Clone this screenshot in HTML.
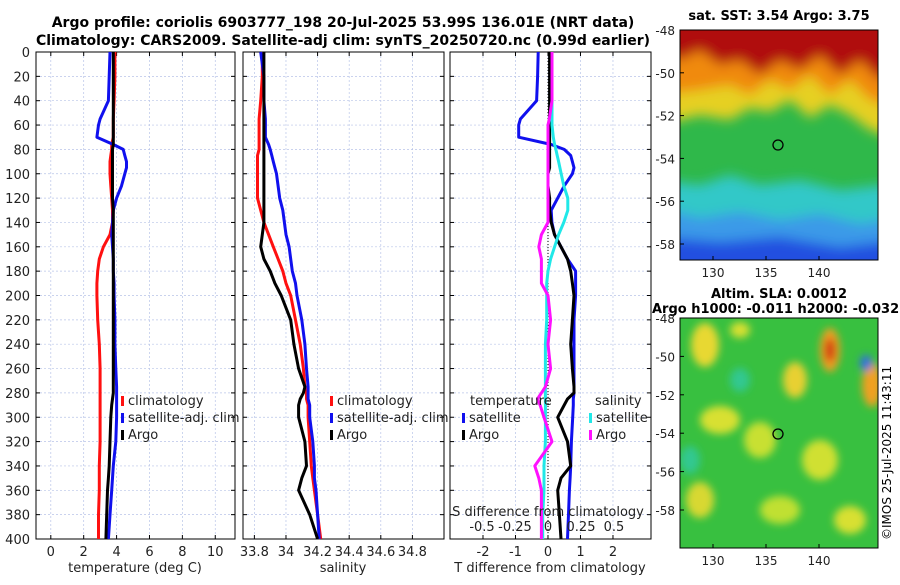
<!DOCTYPE html>
<html><head><meta charset="utf-8"><style>
body{margin:0;background:#fff;}
svg text{font-family:"DejaVu Sans","Liberation Sans",sans-serif;}
</style></head><body>
<svg id="c" width="900" height="580" xmlns="http://www.w3.org/2000/svg">
<defs>
<filter id="bl" x="-20%" y="-20%" width="140%" height="140%"><feGaussianBlur stdDeviation="6"/></filter>
<filter id="bl2" x="-20%" y="-20%" width="140%" height="140%"><feGaussianBlur stdDeviation="4"/></filter>
<clipPath id="m1"><rect x="680" y="30" width="198" height="230"/></clipPath>
<clipPath id="m2"><rect x="680" y="318" width="198" height="230"/></clipPath>
</defs>
<text x="343" y="27" text-anchor="middle" font-size="14" font-weight="bold">Argo profile: coriolis 6903777_198 20-Jul-2025 53.99S 136.01E (NRT data)</text>
<text x="343" y="45" text-anchor="middle" font-size="14" font-weight="bold">Climatology: CARS2009. Satellite-adj clim: synTS_20250720.nc (0.99d earlier)</text>
<g id="panels"></g>
<g id="maps">
<text x="779" y="20" text-anchor="middle" font-size="13" font-weight="bold">sat. SST: 3.54 Argo: 3.75</text>
<g clip-path="url(#m1)">
<rect x="660" y="10" width="240" height="270" fill="#2fb84a"/>
<g filter="url(#bl)">
<path d="M660 10H900V140L870 130 850 115 830 105 810 118 790 100 770 112 750 108 730 120 700 115 660 125Z" fill="#e6d020"/>
<path d="M660 10H900V110L870 100 850 80 830 95 810 75 790 90 770 80 750 95 730 85 700 90 660 95Z" fill="#f08a10"/>
<path d="M660 10H900V75L880 80 860 60 840 75 820 55 800 70 780 60 760 75 740 60 720 65 700 50 680 60 660 55Z" fill="#b00808"/>
<path d="M660 180L700 185 730 175 760 185 800 180 840 190 900 183V280H660Z" fill="#30c8c8"/>
<path d="M660 208L700 218 740 212 780 220 820 214 860 224 900 217V280H660Z" fill="#3a9ae8"/>
<path d="M660 237L720 242 780 237 840 247 900 240V280H660Z" fill="#2050e0"/>
</g></g>
<rect x="680" y="30" width="198" height="230" fill="none" stroke="#000"/>
<circle cx="778" cy="145" r="5" fill="none" stroke="#000" stroke-width="1.3"/>
<text x="779" y="298" text-anchor="middle" font-size="13" font-weight="bold">Altim. SLA: 0.0012</text>
<text x="652" y="313" font-size="13" font-weight="bold">Argo h1000: -0.011 h2000: -0.032</text>
<g clip-path="url(#m2)">
<rect x="660" y="300" width="240" height="270" fill="#38c040"/>
<g filter="url(#bl2)">
<ellipse cx="705" cy="345" rx="14" ry="22" fill="#e8d830"/>
<ellipse cx="740" cy="330" rx="10" ry="8" fill="#d8e030"/>
<ellipse cx="795" cy="380" rx="12" ry="18" fill="#e8d030"/>
<ellipse cx="830" cy="350" rx="10" ry="22" fill="#f0a020"/>
<ellipse cx="830" cy="350" rx="5" ry="12" fill="#d03010"/>
<ellipse cx="872" cy="385" rx="10" ry="22" fill="#f0a020"/>
<ellipse cx="866" cy="363" rx="6" ry="8" fill="#3070e0"/>
<ellipse cx="720" cy="420" rx="20" ry="14" fill="#d8e030"/>
<ellipse cx="760" cy="440" rx="16" ry="18" fill="#c8e030"/>
<ellipse cx="820" cy="460" rx="18" ry="20" fill="#d0e030"/>
<ellipse cx="700" cy="500" rx="14" ry="18" fill="#d8d830"/>
<ellipse cx="780" cy="510" rx="20" ry="14" fill="#c0e030"/>
<ellipse cx="850" cy="520" rx="16" ry="14" fill="#d8e030"/>
<ellipse cx="740" cy="380" rx="10" ry="12" fill="#30c890"/>
<ellipse cx="690" cy="460" rx="10" ry="14" fill="#30c890"/>
</g></g>
<rect x="680" y="318" width="198" height="230" fill="none" stroke="#000"/>
<circle cx="778" cy="434" r="5" fill="none" stroke="#000" stroke-width="1.3"/>
<text transform="translate(891,540) rotate(-90)" font-size="12">©IMOS 25-Jul-2025 11:43:11</text>
</g>
</svg>
<script>
const depths=[0,20,40,55,60,70,76,80,85,90,95,100,110,120,130,140,150,160,170,180,190,200,220,240,260,275,280,285,290,300,320,340,350,360,380,400];
const tClim=[3.9,3.9,3.85,3.8,3.8,3.8,3.7,3.7,3.65,3.6,3.6,3.6,3.65,3.7,3.75,3.75,3.6,3.2,2.95,2.85,2.8,2.8,2.85,2.95,3.0,3.0,3.0,3.0,3.0,3.0,3.0,2.95,2.95,2.95,2.9,2.9];
const tSat=[3.6,3.55,3.5,3.0,2.9,2.8,3.8,4.4,4.5,4.6,4.6,4.5,4.3,4.0,3.8,3.75,3.7,3.75,3.8,3.8,3.85,3.85,3.9,3.9,3.95,4.0,4.0,4.0,4.0,4.0,3.95,3.8,3.75,3.7,3.6,3.5];
const tArgo=[3.8,3.8,3.8,3.8,3.8,3.8,3.8,3.75,3.75,3.75,3.75,3.75,3.75,3.75,3.8,3.8,3.8,3.8,3.8,3.8,3.8,3.8,3.8,3.8,3.8,3.8,3.8,3.75,3.7,3.65,3.6,3.55,3.5,3.45,3.4,3.35];
const sClim=[33.85,33.85,33.84,33.83,33.83,33.83,33.83,33.83,33.82,33.82,33.82,33.82,33.82,33.82,33.84,33.86,33.89,33.92,33.95,33.98,34.0,34.03,34.06,34.09,34.11,34.12,34.13,34.13,34.14,34.14,34.15,34.16,34.17,34.18,34.2,34.22];
const sSat=[33.84,33.86,33.86,33.87,33.87,33.87,33.89,33.9,33.91,33.92,33.93,33.94,33.95,33.96,33.98,33.99,34.0,34.02,34.03,34.04,34.06,34.07,34.1,34.12,34.13,34.14,34.14,34.14,34.15,34.15,34.17,34.18,34.18,34.19,34.2,34.21];
const sArgo=[33.86,33.86,33.86,33.86,33.86,33.86,33.86,33.86,33.86,33.86,33.86,33.86,33.86,33.86,33.86,33.86,33.85,33.84,33.86,33.9,33.93,33.97,34.03,34.05,34.08,34.12,34.11,34.09,34.08,34.08,34.12,34.13,34.1,34.08,34.15,34.2];
const dTsat=[-0.3,-0.32,-0.35,-0.85,-0.9,-0.9,0.1,0.5,0.7,0.75,0.8,0.75,0.5,0.3,0.1,0.12,0.2,0.4,0.6,0.85,0.85,0.85,0.8,0.8,0.8,0.8,0.8,0.78,0.78,0.76,0.72,0.7,0.68,0.66,0.63,0.6];
const dTargo=[0.05,0.05,0.05,0.05,0.05,0.05,0.05,0.05,0.05,0.05,0.05,0.0,0.0,0.05,0.05,0.1,0.2,0.4,0.6,0.7,0.75,0.8,0.75,0.7,0.75,0.8,0.8,0.6,0.5,0.3,0.6,0.7,0.4,0.3,0.35,0.4];
const dSsat=[0.03,0.03,0.03,0.03,0.03,0.04,0.05,0.06,0.07,0.08,0.09,0.1,0.12,0.15,0.15,0.12,0.08,0.05,0.02,0.0,-0.01,-0.01,-0.01,-0.02,-0.02,-0.02,-0.02,-0.02,-0.02,-0.02,-0.02,-0.03,-0.03,-0.03,-0.04,-0.04];
const dSargo=[0.03,0.03,0.03,0.01,0.0,0.0,0.0,0.0,0.0,0.0,0.0,0.0,0.0,0.0,0.0,0.0,-0.05,-0.07,-0.05,-0.05,-0.05,0.0,0.02,0.0,0.02,-0.02,-0.05,-0.08,-0.06,-0.03,0.03,-0.1,-0.07,-0.05,-0.05,-0.05];
const depthTicks=[0,20,40,60,80,100,120,140,160,180,200,220,240,260,280,300,320,340,360,380,400];
const tTicks=[0,2,4,6,8,10];
const sTicks=[33.8,34,34.2,34.4,34.6,34.8];
const dTTicks=[-2,-1,0,1,2];
const dSTicks=[-0.5,-0.25,0,0.25,0.5];
const latTicks=[-48,-50,-52,-54,-56,-58];
const lonTicks=[130,135,140];

const NS='http://www.w3.org/2000/svg';
const svg=document.getElementById('c');
const P=document.getElementById('panels');
const Y0=52,Y1=539;
const y=d=>Y0+(Y1-Y0)*d/400;
function mk(t,a,parent){const e=document.createElementNS(NS,t);for(const k in a)e.setAttribute(k,a[k]);(parent||P).appendChild(e);return e;}
function txt(x,yy,s,sz,anchor,parent){const e=mk('text',{x:x,y:yy,'font-size':sz||13,'text-anchor':anchor||'middle',fill:'#222'},parent);e.textContent=s;return e;}
const panels=[
 {x0:36,x1:235,lo:-0.9,hi:11.2,ticks:tTicks,name:'temperature'},
 {x0:243,x1:444,lo:33.728,hi:35.0,ticks:sTicks,name:'salinity'},
 {x0:450,x1:651,lo:-3.015,hi:3.17,ticks:dTTicks,name:'difference'}];
const sx=(p,v)=>p.x0+(p.x1-p.x0)*(v-p.lo)/(p.hi-p.lo);
const dSx=v=>548+132*v;
panels.forEach((p,i)=>{
 const g=mk('g',{});
 
 
 depthTicks.forEach(d=>{mk('line',{x1:p.x0,x2:p.x1,y1:y(d),y2:y(d),stroke:'#b8c4e8','stroke-width':0.7,'stroke-dasharray':'2,2'},g);
  mk('line',{x1:p.x0,x2:p.x0+4,y1:y(d),y2:y(d),stroke:'#000'},g);mk('line',{x1:p.x1-4,x2:p.x1,y1:y(d),y2:y(d),stroke:'#000'},g);
  if(i==0){const t=txt(30,y(d)+5,String(d),13,'end',g);}});
 p.ticks.forEach(v=>{const X=sx(p,v);mk('line',{x1:X,x2:X,y1:Y0,y2:Y1,stroke:'#b8c4e8','stroke-width':0.7,'stroke-dasharray':'2,2'},g);
  mk('line',{x1:X,x2:X,y1:Y1-4,y2:Y1,stroke:'#000'},g);mk('line',{x1:X,x2:X,y1:Y0,y2:Y0+4,stroke:'#000'},g);
  const t=txt(X,556,String(v),13,'middle',g);});
 mk('rect',{x:p.x0,y:Y0,width:p.x1-p.x0,height:Y1-Y0,fill:'none',stroke:'#000'},g);
});
const p0=panels[0],p1=panels[1],p2=panels[2];
function line(vals,fx,col,nm){const pts=vals.map((v,k)=>fx(v).toFixed(1)+','+y(depths[k]).toFixed(1)).join(' ');
 const e=mk('polyline',{points:pts,fill:'none',stroke:col,'stroke-width':3,'stroke-linejoin':'round'});
 
 }
mk('line',{x1:548,x2:548,y1:Y0,y2:Y1,stroke:'#000','stroke-dasharray':'1,2','stroke-width':1});
line(tClim,v=>sx(p0,v),'#ff1010','temp-climatology-line');
line(tSat,v=>sx(p0,v),'#1010ee','temp-satellite-line');
line(tArgo,v=>sx(p0,v),'#000','temp-argo-line');
line(sClim,v=>sx(p1,v),'#ff1010','sal-climatology-line');
line(sSat,v=>sx(p1,v),'#1010ee','sal-satellite-line');
line(sArgo,v=>sx(p1,v),'#000','sal-argo-line');
line(dTsat,v=>sx(p2,v),'#1010ee','dT-satellite-line');
line(dTargo,v=>sx(p2,v),'#000','dT-argo-line');
line(dSsat,dSx,'#20e8e8','dS-satellite-line');
line(dSargo,dSx,'#ff10ff','dS-argo-line');
dSTicks.forEach(v=>{const t=txt(dSx(v),531,String(v),13);});
let t=txt(548,516,'S difference from climatology',13);
t=txt(135,572,'temperature (deg C)',13);
t=txt(343,572,'salinity',13);
t=txt(550,572,'T difference from climatology',13);
function leg(x,yy,col,label,nm){const g=mk('g',{});
 mk('rect',{x:x,y:yy-9,width:3,height:10,fill:col},g);txt(x+7,yy,label,13,'start',g);}
[[p0,121],[p1,330]].forEach(([p,x],i)=>{
 leg(x,405,'#ff1010','climatology','legend-climatology');
 leg(x,422,'#1010ee','satellite-adj. clim','legend-satellite');
 leg(x,439,'#000','Argo','legend-argo');});
t=txt(470,405,'temperature',13,'start');
t=txt(595,405,'salinity',13,'start');
leg(462,422,'#1010ee','satellite','legend-t-satellite');
leg(462,439,'#000','Argo','legend-t-argo');
leg(589,422,'#20e8e8','satellite','legend-s-satellite');
leg(589,439,'#ff10ff','Argo','legend-s-argo');
const M=document.getElementById('maps');
[[30,21.4],[318,19.2]].forEach(([top,k])=>{
 latTicks.forEach(l=>{const Y=top+(-48-l)*k;mk('line',{x1:680,x2:684,y1:Y,y2:Y,stroke:'#000'},M);const e=txt(675,Y+5,String(l),12,'end',M);});
 lonTicks.forEach(l=>{const X=713+(l-130)*10.6;mk('line',{x1:X,x2:X,y1:top+226,y2:top+230,stroke:'#000'},M);const e=txt(X,top+247,String(l),12,'middle',M);});
});
</script>
</body></html>
